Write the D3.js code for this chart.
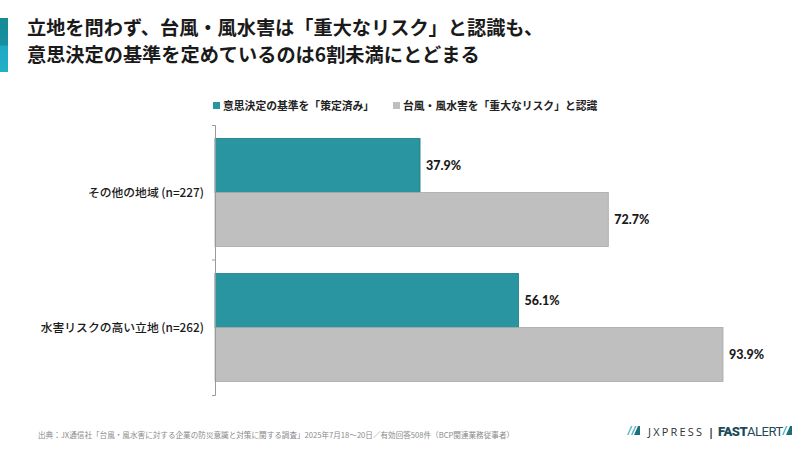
<!DOCTYPE html>
<html>
<head>
<meta charset="utf-8">
<script src="https://cdn.jsdelivr.net/npm/d3@7"></script>
<style>
  body { margin: 0; background: #fff; }
  svg { display: block; }
</style>
</head>
<body>
<script>
// 立地別：リスク認識と意思決定基準の策定状況

const categories = ["その他の地域 (n=227)", "水害リスクの高い立地 (n=262)"];
const seriesNames = ["意思決定の基準を「策定済み」", "台風・風水害を「重大なリスク」と認識"];
const decided = [37.9, 56.1];
const recognized = [72.7, 93.9];

const titleLines = [
  "立地を問わず、台風・風水害は「重大なリスク」と認識も、",
  "意思決定の基準を定めているのは6割未満にとどまる"
];
const sourceText = "出典：JX通信社「台風・風水害に対する企業の防災意識と対策に関する調査」2025年7月18〜20日／有効回答508件（BCP関連業務従事者）";

const colors = ["#2995a0", "#bfbfbf"];
const strokes = ["#1d7a84", "#a9a9a9"];

const jp = "'Noto Sans CJK JP', 'Noto Sans', sans-serif";

const svg = d3.select("body").append("svg")
  .attr("width", 800)
  .attr("height", 450);

// title accent bar
const grad = svg.append("defs").append("linearGradient")
  .attr("id", "accent").attr("x1", 0).attr("x2", 0).attr("y1", 0).attr("y2", 1);
grad.append("stop").attr("offset", "0%").attr("stop-color", "#178a94");
grad.append("stop").attr("offset", "50%").attr("stop-color", "#1690a0");
grad.append("stop").attr("offset", "52%").attr("stop-color", "#1fa8c2");
grad.append("stop").attr("offset", "100%").attr("stop-color", "#22b0c8");
svg.append("rect")
  .attr("x", 0).attr("y", 18).attr("width", 8).attr("height", 54)
  .attr("fill", "url(#accent)");

svg.append("g")
  .selectAll("text")
  .data(titleLines)
  .join("text")
    .attr("x", 27)
    .attr("y", (d, i) => 35 + i * 27)
    .attr("font-family", jp)
    .attr("font-weight", 700)
    .attr("font-size", 19.2)
    .attr("fill", "#1a1a1a")
    .text(d => d);

// legend
const legendX = [213, 393];
const legend = svg.append("g")
  .selectAll("g")
  .data(seriesNames)
  .join("g")
    .attr("transform", (d, i) => `translate(${legendX[i]},106)`);
legend.append("rect")
  .attr("x", 0).attr("y", -4).attr("width", 7).attr("height", 7)
  .attr("fill", (d, i) => colors[i]);
legend.append("text")
  .attr("x", 10).attr("y", 4)
  .attr("font-family", jp)
  .attr("font-weight", 700)
  .attr("font-size", 10.8)
  .attr("fill", "#222")
  .text(d => d);

// scales
const x = d3.scaleLinear().domain([0, 100]).range([215, 756]);
const y = d3.scaleBand().domain(categories).range([125, 395])
  .paddingInner(0.2).paddingOuter(0.1);
const ySub = d3.scaleBand().domain(d3.range(seriesNames.length)).range([0, y.bandwidth()]);

const rows = categories.map((c, i) => ({ cat: c, values: [decided[i], recognized[i]] }));

const groups = svg.append("g")
  .selectAll("g")
  .data(rows)
  .join("g")
    .attr("transform", d => `translate(0,${y(d.cat)})`);

groups.selectAll("rect")
  .data(d => d.values)
  .join("rect")
    .attr("x", x(0))
    .attr("y", (d, i) => ySub(i))
    .attr("width", d => x(d) - x(0))
    .attr("height", ySub.bandwidth())
    .attr("fill", (d, i) => colors[i])
    .attr("stroke", (d, i) => strokes[i])
    .attr("stroke-width", 0.8);

groups.selectAll("text.val")
  .data(d => d.values)
  .join("text")
    .attr("class", "val")
    .attr("x", d => x(d) + 6)
    .attr("y", (d, i) => ySub(i) + ySub.bandwidth() / 2 + 4)
    .attr("font-family", "Lato, 'Noto Sans', sans-serif")
    .attr("font-weight", 900)
    .attr("font-size", 12.5)
    .attr("fill", "#1a1a1a")
    .text(d => d.toFixed(1) + "%");

// y axis: line with ticks at band boundaries
const axis = svg.append("g")
  .attr("transform", `translate(${x(0)},0)`)
  .call(d3.axisLeft(y).tickSize(0).tickSizeOuter(3).tickFormat(""));
axis.select(".domain").attr("stroke", "#9a9a9a");
const mid = y(categories[1]) - y.step() * y.paddingInner() / 2;
axis.append("line")
  .attr("x1", -3).attr("x2", 0).attr("y1", mid).attr("y2", mid)
  .attr("stroke", "#9a9a9a");

svg.append("g")
  .selectAll("text")
  .data(categories)
  .join("text")
    .attr("x", 204)
    .attr("y", d => y(d) + y.bandwidth() / 2 + 4)
    .attr("text-anchor", "end")
    .attr("font-family", jp)
    .attr("font-weight", 500)
    .attr("font-size", 11.8)
    .attr("fill", "#1a1a1a")
    .text(d => d);

// footer
svg.append("text")
  .attr("x", 38).attr("y", 438)
  .attr("font-family", jp)
  .attr("font-size", 7.6)
  .attr("fill", "#8a8a8a")
  .text(sourceText);

const logo = svg.append("g").attr("transform", "translate(627,431)");
[0, 4].forEach(dx => {
  logo.append("path")
    .attr("d", `M${dx},4 L${dx + 4},-5 L${dx + 5.5},-5 L${dx + 1.5},4 Z`)
    .attr("fill", "#5ab5c0");
});
logo.append("path").attr("d", "M7,4 L11,-5 L13,-5 L13,4 Z").attr("fill", "#1e6f7c");
logo.append("text")
  .attr("x", 21).attr("y", 4.5)
  .attr("font-family", "'Open Sans', sans-serif")
  .attr("font-size", 11)
  .attr("letter-spacing", 2.2)
  .attr("fill", "#333")
  .text("JXPRESS");
logo.append("text")
  .attr("x", 81).attr("y", 4.5)
  .attr("font-family", "'Open Sans', sans-serif")
  .attr("font-weight", 700)
  .attr("font-size", 11)
  .attr("fill", "#333")
  .text("|");
const fa = logo.append("text")
  .attr("x", 91).attr("y", 5)
  .attr("font-family", "'Roboto', sans-serif")
  .attr("font-size", 13)
  .attr("letter-spacing", -0.5)
  .attr("fill", "#1d4a5a");
fa.append("tspan").attr("font-weight", 900).text("FAST");
fa.append("tspan").attr("font-weight", 400).text("ALERT");
logo.append("path").attr("d", "M155,4 L159,-5 L160.5,-5 L156.5,4 Z").attr("fill", "#5ab5c0");
logo.append("path").attr("d", "M159,4 L163,-5 L165,-5 L165,4 Z").attr("fill", "#1e6f7c");
</script>
</body>
</html>
